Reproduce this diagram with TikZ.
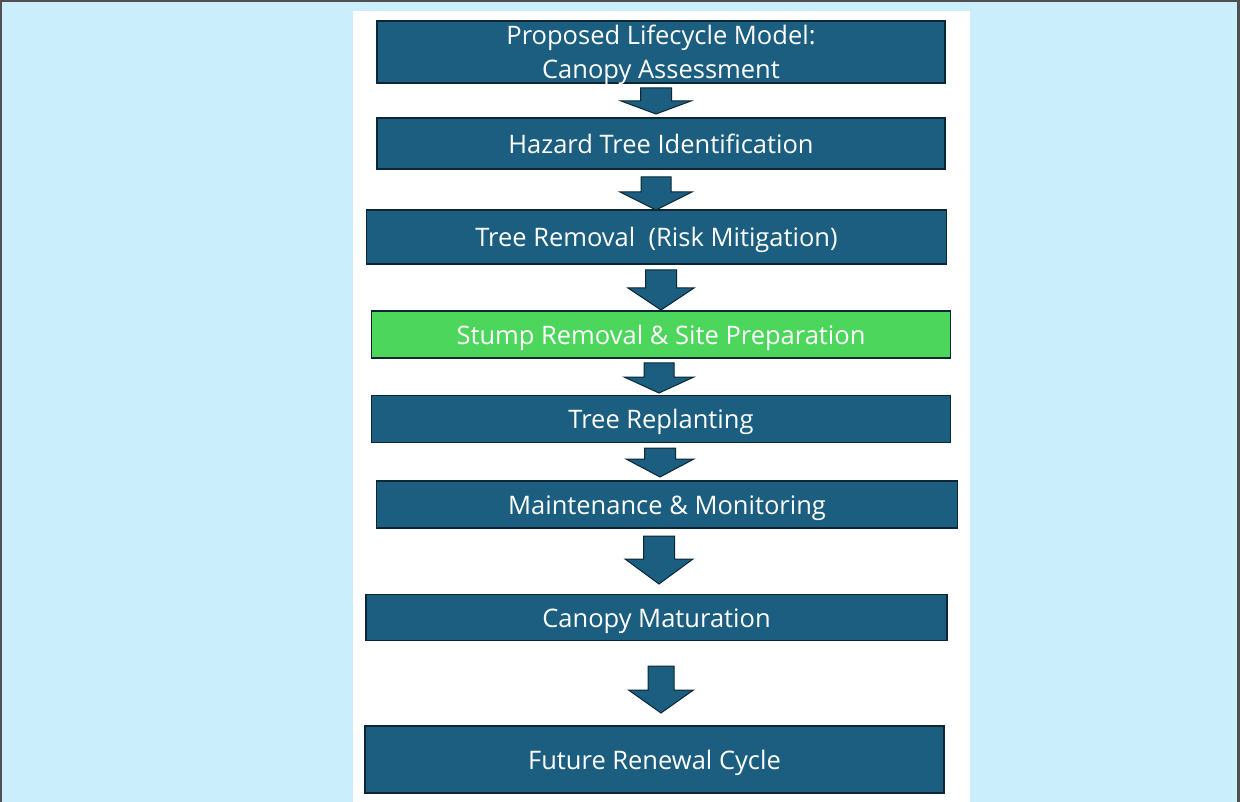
\documentclass[tikz,border=0pt]{standalone}
\usepackage{fontspec}
\setmainfont{Open Sans}[Ligatures=NoCommon]
\usepackage{tikz}
\usetikzlibrary{calc}

\definecolor{panelblue}{RGB}{202,238,252}
\definecolor{stepblue}{RGB}{27,94,127}
\definecolor{stepedge}{RGB}{12,38,54}
\definecolor{stepgreen}{RGB}{76,215,92}
\definecolor{framegray}{RGB}{80,80,80}

% block arrow: centre x, shaft top, neck y, tip y, shaft half width, head half width
\newcommand{\flowarrow}[6]{%
  \draw[flowarr] ({#1-#5},#2) -- ({#1+#5},#2) -- ({#1+#5},#3) -- ({#1+#6},#3)
    -- (#1,#4) -- ({#1-#6},#3) -- ({#1-#5},#3) -- cycle;}

\begin{document}
\begin{tikzpicture}[x=1pt,y=-1pt,
    steptext/.style={text=white,align=center,font=\fontsize{25.5}{34}\selectfont},
    stepbox/.style={steptext,draw=stepedge,line width=1.4pt,fill=stepblue,
      inner sep=0pt,text height=19.5pt,text depth=0pt},
    greenbox/.style={stepbox,fill=stepgreen},
    flowarr/.style={draw=stepedge,line width=1pt,fill=stepblue,line join=miter}]
  \useasboundingbox (0,0) rectangle (1240,802);
  % Background and white panel
  \fill[panelblue] (0,0) rectangle (1240,802);
  \fill[white] (353,11) rectangle (970,802);
  \draw[framegray,line width=2.5pt] (1,803) -- (1,1) -- (1238.5,1) -- (1238.5,803);
  % Steps
  \node[stepbox,minimum width=568pt,minimum height=62pt] (assess) at (661,52) {};
  \node[steptext] (assesstext) at (661,54.5)
    {Proposed Lifecycle Model:\\Canopy Assessment};
  \node[stepbox,minimum width=568pt,minimum height=51pt] (hazard) at (661,143.5)
    {Hazard Tree Identification};
  \node[stepbox,minimum width=580pt,minimum height=54pt] (removal) at (656.5,237)
    {Tree Removal\ \ (Risk Mitigation)};
  \node[greenbox,minimum width=579pt,minimum height=47pt] (stump) at (661,334.5)
    {Stump Removal \& Site Preparation};
  \node[stepbox,minimum width=579pt,minimum height=47pt] (replant) at (661,419)
    {Tree Replanting};
  \node[stepbox,minimum width=581pt,minimum height=47pt] (maint) at (667,504.5)
    {Maintenance \& Monitoring};
  \node[stepbox,minimum width=581pt,minimum height=46pt] (mature) at (656.5,617.5)
    {Canopy Maturation};
  \node[stepbox,minimum width=579pt,minimum height=67pt] (renewal) at (654.5,759.5)
    {Future Renewal Cycle};
  % Arrows between steps
  \flowarrow{656}{88}{101}{114}{15.5}{35}
  \flowarrow{656}{177}{192}{210}{15}{36}
  \flowarrow{661}{270}{288}{310}{15.5}{33}
  \flowarrow{659}{363}{377}{393}{15}{35}
  \flowarrow{660}{448}{459}{477}{15.5}{34}
  \flowarrow{659}{536}{559}{584}{15.5}{34}
  \flowarrow{661}{666}{690}{713}{13}{32.5}
\end{tikzpicture}
\end{document}
